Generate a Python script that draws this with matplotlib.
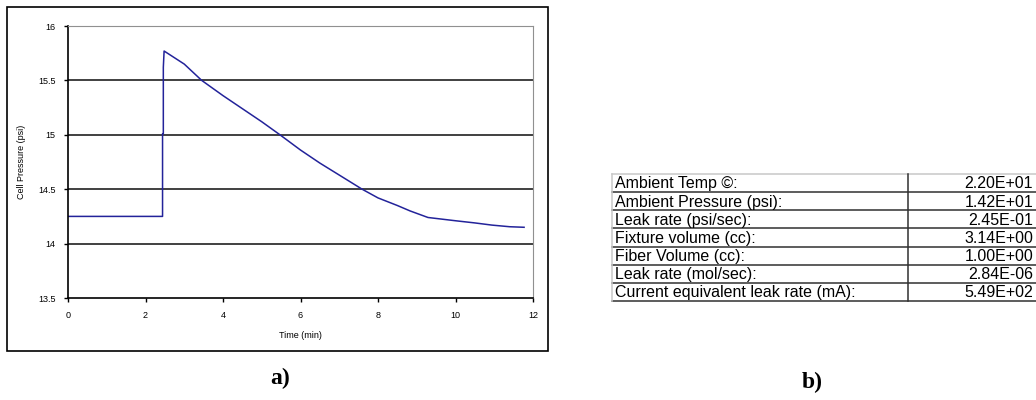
import matplotlib
matplotlib.use('Agg')
import matplotlib.pyplot as plt
from matplotlib.patches import Rectangle

# Chart data
time_min = [0.0, 2.44, 2.44, 2.46, 2.46, 2.48, 3.0, 3.45, 4.0, 4.5, 5.0, 5.47, 6.0,
            6.5, 7.0, 7.59, 8.0, 8.5, 8.83, 9.29, 10.0, 10.5, 10.94, 11.4, 11.77]
pressure_psi = [14.25, 14.25, 15.01, 15.01, 15.62, 15.77, 15.65, 15.50, 15.36, 15.24,
                15.12, 15.00, 14.86, 14.74, 14.63, 14.50, 14.42, 14.35, 14.30, 14.24,
                14.21, 14.19, 14.17, 14.155, 14.15]
x_ticks = [0, 2, 4, 6, 8, 10, 12]
y_ticks = [13.5, 14, 14.5, 15, 15.5, 16]

# Table data
row_labels = ['Ambient Temp \u00a9:', 'Ambient Pressure (psi):', 'Leak rate (psi/sec):',
              'Fixture volume (cc):', 'Fiber Volume (cc):', 'Leak rate (mol/sec):',
              'Current equivalent leak rate (mA):']
row_values = [2.20e+01, 1.42e+01, 2.45e-01, 3.14e+00, 1.00e+00, 2.84e-06, 5.49e+02]

W, H = 1036, 400
plt.rcParams['font.family'] = ['Liberation Sans', 'DejaVu Sans']
fig = plt.figure(figsize=(W / 100, H / 100), dpi=100)


def px(x0, y0, x1, y1):
    """ pixel box (top-left origin) -> figure rect """
    return [x0 / W, 1 - y1 / H, (x1 - x0) / W, (y1 - y0) / H]


# Outer frame of the chart
fr = px(7, 7, 548, 351)
fig.patches.append(Rectangle((fr[0], fr[1]), fr[2], fr[3], transform=fig.transFigure,
                             fill=False, edgecolor='black', linewidth=1.2))

# Chart
ax = fig.add_axes(px(68, 26, 533, 298))
ax.plot(time_min, pressure_psi, color='#23239a', linewidth=1.1)
ax.set_xlim(0, 12)
ax.set_ylim(13.5, 16)
ax.set_xticks(x_ticks)
ax.set_yticks(y_ticks)
ax.set_yticklabels([f'{v:g}' for v in y_ticks])
for y in y_ticks[1:-1]:
    ax.axhline(y, color='#202020', linewidth=1.2, zorder=0)
ax.spines['top'].set_color('#909090')
ax.spines['right'].set_color('#909090')
ax.spines['left'].set_linewidth(1.2)
ax.spines['bottom'].set_linewidth(1.2)
ax.tick_params(direction='out', length=3, width=1, labelsize=6.5, pad=6)
ax.set_xlabel('Time (min)', fontsize=6.5, labelpad=8)
ax.set_ylabel('Cell Pressure (psi)', fontsize=6.5, labelpad=9)

# Table
tx0, tx1, tdiv = 612, 1040, 908
ty0, ty1 = 174, 301
tab = fig.add_axes(px(tx0, ty0, tx1, ty1))
tab.set_xlim(tx0, tx1)
tab.set_ylim(len(row_labels), 0)
tab.axis('off')
for i in range(1, len(row_labels) + 1):
    tab.plot([tx0, tx1], [i, i], color='#303030', linewidth=1.1, clip_on=False)
tab.plot([tx0, tx1], [0, 0], color='#c8c8c8', linewidth=1.1, clip_on=False)
tab.plot([tx0, tx0], [0, len(row_labels)], color='#c8c8c8', linewidth=1.1, clip_on=False)
tab.plot([tdiv, tdiv], [0, len(row_labels)], color='#303030', linewidth=1.1, clip_on=False)
for i, (lab, val) in enumerate(zip(row_labels, row_values)):
    tab.text(tx0 + 3, i + 0.55, lab, fontsize=11.5, va='center', ha='left')
    tab.text(1033, i + 0.55, f'{val:.2E}', fontsize=11.5, va='center', ha='right')

# Panel captions
fig.text(280 / W, 1 - 378 / H, 'a)', family=['Liberation Serif'], weight='bold',
         fontsize=17, ha='center', va='center')
fig.text(812 / W, 1 - 382 / H, 'b)', family=['Liberation Serif'], weight='bold',
         fontsize=17, ha='center', va='center')

fig.savefig('out.png', dpi=100)
